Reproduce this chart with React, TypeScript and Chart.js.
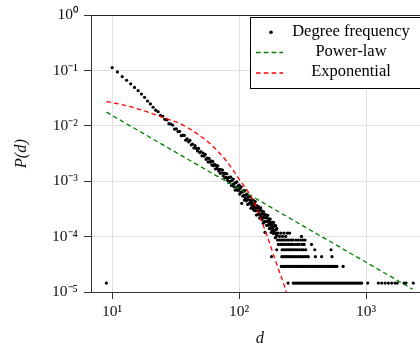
import React, { useEffect, useRef } from 'react';
import { Chart, registerables } from 'chart.js';

Chart.register(...registerables);

const FONT = '"Liberation Serif", "Times New Roman", serif';

// Axis ticks
const xTickValues = [10, 100, 1000];
const xTickLabels = ['10¹', '10²', '10³'];
const yTickValues = [1e-5, 1e-4, 1e-3, 1e-2, 1e-1, 1];
const yTickLabels = ['10⁻⁵', '10⁻⁴', '10⁻³', '10⁻²', '10⁻¹', '10⁰'];
const xRange = [6.81, 3112];
const yRange = [1e-5, 1];

// Degree frequency: dense head (one point per degree)
const headDegrees = [
  10, 11, 12, 13, 14, 15, 16, 17, 18, 19, 20, 21, 22, 23, 24, 25, 26, 27, 28, 29,
  30, 31, 32, 33, 34, 35, 36, 37, 38, 39, 40, 41, 42, 43, 44, 45, 46, 47, 48, 49,
  50, 51, 52, 53, 54, 55, 56, 57, 58, 59, 60, 61, 62, 63, 64, 65, 66, 67, 68, 69,
  70, 71, 72, 73, 74, 75, 76, 77, 78, 79, 80, 81, 82, 83, 84, 85, 86, 87, 88, 89,
  90, 91, 92, 93, 94, 95, 96, 97, 98, 99, 100, 101, 102, 103, 104, 105, 106, 107, 108, 109,
  110, 111, 112, 113, 114, 115, 116, 117, 118, 119, 120, 121, 122, 123, 124, 125, 126, 127, 128, 129,
  130, 131, 132, 133, 134, 135, 136, 137, 138, 139, 140, 141, 142, 143, 144, 145, 146, 147, 148, 149,
  150, 151, 152, 153, 154, 155, 156, 157, 158, 159, 160, 161, 162, 163, 164, 165, 166, 167, 168, 169,
  170, 171, 172, 173, 174, 175, 176, 177, 178, 179, 180, 181, 182, 183, 184, 185, 186, 187, 188, 189,
  190, 191, 192, 193, 194, 195, 196, 197, 198, 199,
];
const headFreq = [
  0.1132, 0.0948, 0.0782, 0.0671, 0.0578, 0.0497, 0.0434, 0.0378, 0.033, 0.0283,
  0.025, 0.0218, 0.0193, 0.0181, 0.0155, 0.015, 0.0132, 0.0129, 0.011, 0.0108,
  0.0104, 0.00878, 0.00889, 0.00791, 0.00802, 0.00668, 0.00683, 0.00675, 0.00555, 0.00587,
  0.00518, 0.00548, 0.00457, 0.00471, 0.004, 0.0044, 0.00395, 0.00354, 0.00393, 0.00331,
  0.00343, 0.00289, 0.00325, 0.00286, 0.00308, 0.0025, 0.00264, 0.00224, 0.00259, 0.00223,
  0.00234, 0.00198, 0.00229, 0.00191, 0.00202, 0.00167, 0.00194, 0.00171, 0.00191, 0.00154,
  0.00165, 0.0014, 0.00163, 0.00142, 0.0016, 0.00126, 0.00141, 0.00115, 0.00138, 0.00118,
  0.00137, 0.00105, 0.00116, 0.000955, 0.00119, 0.001, 0.00119, 0.00084, 0.00104, 0.000879,
  0.0011, 0.000801, 0.000917, 0.000695, 0.000951, 0.00078, 0.000974, 0.000691, 0.000816, 0.000692,
  0.000854, 5.87e-4, 7.46e-4, 6.32e-4, 7.95e-4, 4.0e-4, 6.44e-4, 5.39e-4, 6.73e-4, 5.55e-4,
  4.58e-4, 6.83e-4, 4.97e-4, 5.64e-4, 4.44e-4, 5.89e-4, 4.69e-4, 3.83e-4, 5.25e-4, 4.64e-4,
  3.95e-4, 5.28e-4, 4.05e-4, 4.47e-4, 3.26e-4, 4.62e-4, 3.61e-4, 4.02e-4, 3.25e-4, 4.58e-4,
  3.56e-4, 2.99e-4, 3.89e-4, 3.19e-4, 4.3e-4, 2.94e-4, 3.41e-4, 2.45e-4, 3.63e-4, 2.95e-4,
  3.29e-4, 2.52e-4, 3.51e-4, 2.61e-4, 2.91e-4, 2.18e-4, 3.11e-4, 2.52e-4, 3.3e-4, 2.25e-4,
  2.57e-4, 2.02e-4, 2.91e-4, 2.23e-4, 2.55e-4, 1.75e-4, 2.82e-4, 2.19e-4, 1.88e-4, 2.5e-4,
  1.2e-4, 2.22e-4, 1.87e-4, 2.48e-4, 1.9e-4, 1.6e-4, 2.18e-4, 1.91e-4, 2.43e-4, 1.6e-4,
  1.92e-4, 1.67e-4, 2.09e-4, 1.39e-4, 1.87e-4, 1.63e-4, 2.08e-4, 1.46e-4, 1.68e-4, 1.19e-4,
  1.79e-4, 1.53e-4, 1.29e-4, 1.82e-4, 1.4e-4, 1.58e-4, 1.14e-4, 1.81e-4, 1.28e-4, 1.54e-4,
  1.16e-4, 1.58e-4, 1.3e-4, 9.6e-5, 1.59e-4, 1.14e-4, 1.34e-4, 1.03e-4, 1.41e-4, 1.15e-4,
];

// Degree frequency: sparse tail, grouped by frequency level
const tailLevelFreq = [1.45e-5, 2.9e-5, 4.35e-5, 5.8e-5, 7.25e-5, 8.7e-5, 1.01e-4, 1.16e-4];
const tailLevel1Degrees = [
  9, 243, 267, 275, 283, 291, 300, 309, 318, 327, 337, 347, 357, 368, 378, 390, 401, 413,
  425, 438, 451, 464, 478, 492, 506, 521, 537, 552, 569, 585, 603, 620, 639, 657, 677, 697,
  717, 738, 760, 782, 805, 829, 853, 878, 904, 925, 1031, 1250, 1330, 1413, 1500, 1593,
  1692, 1763, 1991, 2065, 2356,
];
const tailLevel2Degrees = [
  215, 221, 228, 234, 241, 248, 255, 262, 270, 278, 286, 294, 303, 312, 321, 330, 340, 350,
  360, 370, 381, 392, 404, 415, 427, 440, 453, 466, 480, 494, 508, 523, 538, 554, 570, 590, 660,
];
const tailLevel3Degrees = [
  180, 217, 224, 231, 237, 244, 251, 259, 268, 276, 285, 295, 305, 316, 328, 341, 351, 399, 447, 539,
];
const tailLevel4Degrees = [
  198, 218, 225, 232, 238, 246, 253, 261, 269, 279, 288, 299, 311, 322, 335, 395, 530,
];
const tailLevel5Degrees = [204, 211, 219, 227, 236, 245, 254, 263, 274, 287, 298, 313, 325, 372];
const tailLevel6Degrees = [201, 209, 216, 223, 230, 239, 247, 257, 266, 280, 292, 306, 318, 331];
const tailLevel7Degrees = [208, 220, 233, 310];
const tailLevel8Degrees = [203, 214, 226, 240, 250];
const tailLevels = [
  tailLevel1Degrees, tailLevel2Degrees, tailLevel3Degrees, tailLevel4Degrees,
  tailLevel5Degrees, tailLevel6Degrees, tailLevel7Degrees, tailLevel8Degrees,
];

// Fits
const powerLawDegrees = [9, 2333];
const powerLawFreq = [0.0178, 1.12e-5];
const expDegrees = [9, 13, 18, 25, 34, 47, 63, 80, 100, 130, 168, 200, 231, 260];
const expFreq = [
  0.0276, 0.0232, 0.0187, 0.01429, 0.01109, 0.00716, 0.00417, 0.00228, 0.001096,
  4.37e-4, 9.55e-5, 2.95e-5, 1.15e-5, 3.98e-6,
];

const seriesLabels = ['Degree frequency', 'Power-law', 'Exponential'];
const seriesColors = ['#000000', '#008000', '#ff0000'];
const DASH = [4.6, 3.2];

const framePlugin = {
  id: 'frame',
  afterDraw(chart: any) {
    const { ctx, chartArea } = chart;
    ctx.save();
    ctx.strokeStyle = '#222';
    ctx.lineWidth = 1;
    ctx.beginPath();
    ctx.moveTo(chartArea.left, Math.round(chartArea.top) + 0.5);
    ctx.lineTo(chartArea.right, Math.round(chartArea.top) + 0.5);
    ctx.moveTo(Math.round(chartArea.right) + 0.5, chartArea.top);
    ctx.lineTo(Math.round(chartArea.right) + 0.5, chartArea.bottom);
    ctx.stroke();
    ctx.restore();
  },
};

const legendPlugin = {
  id: 'boxLegend',
  afterDraw(chart: any) {
    const { ctx } = chart;
    const ds = chart.data.datasets;
    ctx.save();
    ctx.fillStyle = '#ffffff';
    ctx.fillRect(250.5, 17.5, 180, 71);
    ctx.strokeStyle = '#000';
    ctx.lineWidth = 1;
    ctx.strokeRect(250.5, 17.5, 180, 71);
    const rows = [32.3, 52.5, 73];
    ds.forEach((d: any, i: number) => {
      const y = rows[i];
      if (i === 0) {
        ctx.fillStyle = d.backgroundColor;
        ctx.beginPath();
        ctx.arc(271, y, 1.8, 0, Math.PI * 2);
        ctx.fill();
      } else {
        ctx.strokeStyle = d.borderColor;
        ctx.lineWidth = 1.3;
        ctx.setLineDash(DASH);
        ctx.beginPath();
        ctx.moveTo(256, y);
        ctx.lineTo(283, y);
        ctx.stroke();
        ctx.setLineDash([]);
      }
      ctx.fillStyle = '#000';
      ctx.font = `16.5px ${FONT}`;
      ctx.textAlign = 'center';
      ctx.textBaseline = 'middle';
      ctx.fillText(d.label, 351, y - 1);
    });
    ctx.restore();
  },
};

export default function App() {
  const ref = useRef<HTMLCanvasElement>(null);

  useEffect(() => {
    const canvas = ref.current;
    if (!canvas) return;

    const scatterPoints: { x: number; y: number }[] = [];
    headDegrees.forEach((d, i) => scatterPoints.push({ x: d, y: headFreq[i] }));
    tailLevels.forEach((list, li) =>
      list.forEach((d) => scatterPoints.push({ x: d, y: tailLevelFreq[li] }))
    );

    const tickFont = { family: FONT, size: 15.5 };
    const titleFont = { family: FONT, size: 16.5, style: 'italic' as const };

    const chart = new Chart(canvas, {
      type: 'scatter',
      data: {
        datasets: [
          {
            label: seriesLabels[0],
            data: scatterPoints,
            backgroundColor: seriesColors[0],
            borderWidth: 0,
            pointRadius: 1.6,
            pointHoverRadius: 1.6,
            order: 3,
          },
          {
            label: seriesLabels[1],
            data: powerLawDegrees.map((d, i) => ({ x: d, y: powerLawFreq[i] })),
            showLine: true,
            borderColor: seriesColors[1],
            backgroundColor: seriesColors[1],
            borderWidth: 1.3,
            borderDash: DASH,
            pointRadius: 0,
            order: 2,
          },
          {
            label: seriesLabels[2],
            data: expDegrees.map((d, i) => ({ x: d, y: expFreq[i] })),
            showLine: true,
            borderColor: seriesColors[2],
            backgroundColor: seriesColors[2],
            borderWidth: 1.3,
            borderDash: DASH,
            pointRadius: 0,
            cubicInterpolationMode: 'monotone',
            order: 1,
          },
        ],
      },
      options: {
        responsive: false,
        animation: false,
        devicePixelRatio: 1,
        layout: { padding: { top: 11, right: 11.4, left: 0, bottom: 0 } },
        plugins: {
          legend: { display: false },
          tooltip: { enabled: false },
        },
        scales: {
          x: {
            type: 'logarithmic',
            min: xRange[0],
            max: xRange[1],
            afterBuildTicks: (s: any) => {
              s.ticks = xTickValues.map((v) => ({ value: v }));
            },
            afterFit: (s: any) => {
              s.height = 55;
            },
            ticks: {
              callback: (_v: any, i: number) => xTickLabels[i],
              font: tickFont,
              color: '#111',
              padding: 4,
              autoSkip: false,
              maxRotation: 0,
            },
            grid: { color: '#e0e0e0', lineWidth: 1, tickColor: '#333', tickLength: 7 },
            border: { display: true, color: '#333', width: 1 },
            title: {
              display: true,
              text: 'd',
              font: titleFont,
              color: '#111',
              padding: { top: 0, bottom: -2 },
            },
          },
          y: {
            type: 'logarithmic',
            min: yRange[0],
            max: yRange[1],
            afterBuildTicks: (s: any) => {
              s.ticks = yTickValues.map((v) => ({ value: v }));
            },
            afterFit: (s: any) => {
              s.width = 91;
            },
            ticks: {
              callback: (_v: any, i: number) => yTickLabels[i],
              font: tickFont,
              color: '#111',
              padding: 6,
              autoSkip: false,
            },
            grid: { color: '#e0e0e0', lineWidth: 1, tickColor: '#333', tickLength: 7 },
            border: { display: true, color: '#333', width: 1 },
            title: {
              display: true,
              text: 'P(d)',
              font: titleFont,
              color: '#111',
              padding: { top: 12, bottom: 0 },
            },
          },
        },
      },
      plugins: [framePlugin, legendPlugin],
    } as any);

    return () => chart.destroy();
  }, []);

  return (
    <div
      style={{
        position: 'absolute',
        left: 0,
        top: 0,
        width: 420,
        height: 347,
        overflow: 'hidden',
        background: '#fff',
      }}
    >
      <canvas ref={ref} width={440} height={347} style={{ display: 'block', width: 440, height: 347 }} />
    </div>
  );
}
